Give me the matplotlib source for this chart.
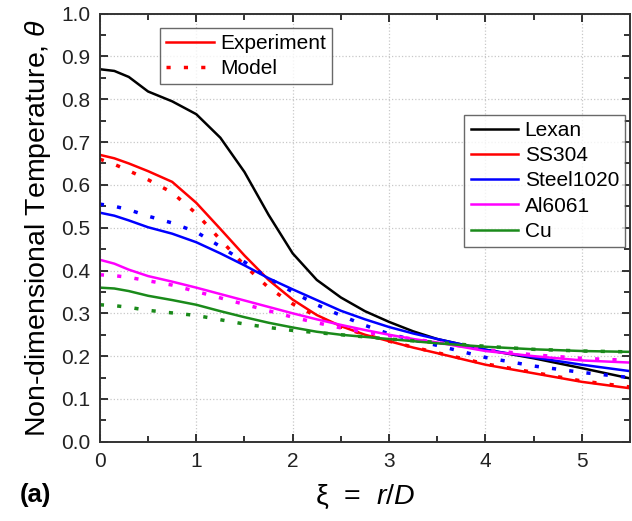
import matplotlib
matplotlib.use('Agg')
import matplotlib.pyplot as plt
from matplotlib.lines import Line2D
from matplotlib.ticker import MultipleLocator, FormatStrFormatter

plt.rcParams['font.family'] = ['Liberation Sans', 'DejaVu Sans']
plt.rcParams['mathtext.fontset'] = 'custom'
plt.rcParams['mathtext.it'] = 'Liberation Sans:italic'
plt.rcParams['mathtext.rm'] = 'Liberation Sans'

xi = [0, 0.15, 0.3, 0.5, 0.75, 1.0, 1.25, 1.5, 1.75, 2.0, 2.25, 2.5, 2.75, 3.0, 3.25, 3.5, 4.0, 4.5, 5.0, 5.5]

lexan_exp = [0.87, 0.866, 0.852, 0.818, 0.795, 0.765, 0.71, 0.63, 0.53, 0.44, 0.378, 0.337, 0.305, 0.28, 0.258, 0.24, 0.215, 0.195, 0.172, 0.148]
ss304_exp = [0.67, 0.662, 0.65, 0.632, 0.607, 0.558, 0.497, 0.435, 0.378, 0.332, 0.296, 0.27, 0.25, 0.235, 0.22, 0.207, 0.18, 0.16, 0.14, 0.125]
ss304_mod = [0.66, 0.648, 0.633, 0.612, 0.582, 0.533, 0.472, 0.412, 0.36, 0.322, 0.293, 0.268, 0.25, 0.235, 0.221, 0.208, 0.182, 0.162, 0.142, 0.128]
st1020_exp = [0.535, 0.528, 0.517, 0.501, 0.486, 0.466, 0.44, 0.412, 0.382, 0.356, 0.331, 0.306, 0.286, 0.268, 0.253, 0.24, 0.215, 0.197, 0.18, 0.165]
st1020_mod = [0.555, 0.55, 0.542, 0.527, 0.511, 0.49, 0.456, 0.42, 0.382, 0.35, 0.32, 0.295, 0.272, 0.252, 0.238, 0.225, 0.197, 0.177, 0.162, 0.15]
al_exp = [0.425, 0.416, 0.402, 0.387, 0.374, 0.36, 0.345, 0.33, 0.315, 0.3, 0.286, 0.273, 0.261, 0.25, 0.24, 0.232, 0.212, 0.2, 0.19, 0.185]
al_mod = [0.39, 0.388, 0.384, 0.376, 0.366, 0.351, 0.336, 0.321, 0.306, 0.291, 0.278, 0.266, 0.256, 0.248, 0.24, 0.232, 0.215, 0.203, 0.195, 0.19]
cu_exp = [0.36, 0.358, 0.352, 0.341, 0.331, 0.32, 0.305, 0.291, 0.278, 0.267, 0.257, 0.25, 0.245, 0.24, 0.235, 0.23, 0.222, 0.216, 0.212, 0.21]
cu_mod = [0.32, 0.318, 0.314, 0.307, 0.301, 0.295, 0.285, 0.275, 0.267, 0.26, 0.255, 0.25, 0.245, 0.24, 0.236, 0.232, 0.223, 0.216, 0.212, 0.21]

series = [
    ('Lexan', 'black', lexan_exp, None),
    ('SS304', '#ff0000', ss304_exp, ss304_mod),
    ('Steel1020', '#0000ff', st1020_exp, st1020_mod),
    ('Al6061', '#ff00ff', al_exp, al_mod),
    ('Cu', '#1a8a1a', cu_exp, cu_mod),
]

dot = (0, (1.2, 3.8))

fig = plt.figure(figsize=(6.32, 5.21), dpi=100)
ax = fig.add_axes([0.158, 0.152, 0.839, 0.822])

handles = []
for name, col, exp, mod in series:
    if mod is not None:
        ax.plot(xi, mod, color=col, lw=2.5, linestyle=dot)
    h, = ax.plot(xi, exp, color=col, lw=1.8)
    handles.append(h)

ax.set_xlim(0, 5.5)
ax.set_ylim(0, 1.0)
ax.xaxis.set_major_locator(MultipleLocator(1))
ax.xaxis.set_minor_locator(MultipleLocator(0.5))
ax.yaxis.set_major_locator(MultipleLocator(0.1))
ax.yaxis.set_minor_locator(MultipleLocator(0.05))
ax.yaxis.set_major_formatter(FormatStrFormatter('%.1f'))
ax.tick_params(which='both', direction='in', top=True, right=True, labelsize=15, colors='#222222')
ax.tick_params(axis='y', which='major', pad=7)
ax.tick_params(axis='x', which='major', pad=7)
ax.tick_params(which='major', length=6, width=1.3)
ax.tick_params(which='minor', length=4, width=1.3)
ax.grid(True, which='major', linestyle=':', color='#c8c8c8', lw=0.9)
for s in ax.spines.values():
    s.set_linewidth(1.4)
    s.set_color('#333333')

ax.set_ylabel(r'Non-dimensional Temperature, $\theta$', fontsize=20.5, labelpad=6)
ax.set_xlabel('ξ  =  $r$/$D$', fontsize=20.5, labelpad=9)
fig.text(0.031, 0.036, '(a)', fontsize=18.5, fontweight='bold')

leg_kw = dict(fontsize=15, frameon=True, fancybox=False, edgecolor='#444444',
              handlelength=2.3, handletextpad=0.3, borderpad=0.3, labelspacing=0.3,
              borderaxespad=0)

leg1 = ax.legend([Line2D([], [], color='#ff0000', lw=1.8), Line2D([], [], color='#ff0000', lw=2.5, linestyle=dot)],
                 ['Experiment', 'Model'], loc='upper left', bbox_to_anchor=(0.113, 0.967), **leg_kw)
leg1.get_frame().set_linewidth(1)
ax.add_artist(leg1)

leg2 = ax.legend(handles, [s[0] for s in series], loc='upper right', bbox_to_anchor=(0.991, 0.764), **leg_kw)
leg2.get_frame().set_linewidth(1)

fig.savefig('out.png', dpi=100)
